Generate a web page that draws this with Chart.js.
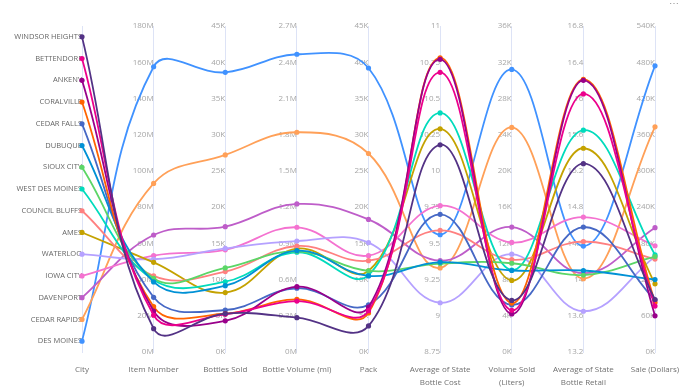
<!DOCTYPE html>
<html>
<head>
<meta charset="utf-8">
<script src="https://cdn.jsdelivr.net/npm/chart.js@4/dist/chart.umd.min.js"></script>
<style>
  html, body { margin: 0; padding: 0; background: #fff; }
  #wrap { position: relative; width: 683px; height: 392px; }
  #more { position: absolute; right: 4px; top: -4px; color: #999; font: 10px "Open Sans", sans-serif; }
</style>
</head>
<body>
<div id="wrap">
  <canvas id="chart" width="683" height="392"></canvas>
  <span id="more">⋯</span>
</div>
<script>
// cities, top of the City axis first
const cities = ["WINDSOR HEIGHTS", "BETTENDORF", "ANKENY", "CORALVILLE", "CEDAR FALLS", "DUBUQUE",
  "SIOUX CITY", "WEST DES MOINES", "COUNCIL BLUFFS", "AMES", "WATERLOO", "IOWA CITY",
  "DAVENPORT", "CEDAR RAPIDS", "DES MOINES"];
const cityColors = ["#533285", "#EC008C", "#99008A", "#FF6300", "#4668C5", "#0091D5",
  "#5BD667", "#00DBBC", "#FF8080", "#C4A200", "#B5A1FF", "#F472D0",
  "#BE5DC9", "#FFA058", "#4092FF"];

const dimensions = ["City", "Item Number", "Bottles Sold", "Bottle Volume (ml)", "Pack",
  ["Average of State", "Bottle Cost"], ["Volume Sold", "(Liters)"],
  ["Average of State", "Bottle Retail"], "Sale (Dollars)"];

// values per city (same order as cities)
const itemNumber = [12.9, 20.3, 22.6, 25, 30.2, 38.7, 40.7, 39.8, 42, 49.5, 51.2, 53.2, 64.6, 93.1, 157.5];      // M
const bottlesSold = [5.3, 5.2, 4.3, 5.3, 5.8, 9.15, 11.6, 9.7, 11.1, 8.2, 14.3, 14.1, 17.3, 27.2, 38.6];        // K
const bottleVolume = [0.284, 0.422, 0.541, 0.436, 0.528, 0.839, 0.834, 0.826, 0.878, 0.856, 0.919, 1.033, 1.226, 1.82, 2.466]; // M
const pack = [3.6, 5.7, 6.2, 5.4, 6.5, 10.5, 11.2, 10.6, 12.6, 11.2, 15.1, 13.3, 18.3, 27.4, 39.2];             // K
const avgCost = [10.18, 10.68, 10.77, 10.78, 9.70, 9.37, 9.36, 10.40, 9.59, 10.29, 9.09, 9.76, 9.38, 9.33, 9.56];
const volumeSold = [5.7, 4.6, 4.2, 5.4, 5.2, 9.0, 9.8, 9.05, 10.2, 7.9, 10.8, 12.1, 13.8, 24.8, 31.2];          // K
const avgRetail = [15.28, 16.05, 16.20, 16.21, 14.58, 14.10, 14.05, 15.65, 14.42, 15.45, 13.65, 14.69, 14.07, 14.01, 14.37];
const sale = [87, 76, 60, 82, 86, 120, 158, 161, 154, 113, 158, 176, 206, 373, 474];                           // K

// axis ranges for the eight numeric dimensions
const axisMin = [0, 0, 0, 0, 8.75, 0, 13.2, 0];
const axisMax = [180, 45, 2.7, 45, 11, 36, 16.8, 540];
const axisStep = [20, 5, 0.3, 5, 0.25, 4, 0.4, 60];
const axisSuffix = ["M", "K", "M", "K", "", "K", "", "K"];

const series = [itemNumber, bottlesSold, bottleVolume, pack, avgCost, volumeSold, avgRetail, sale];

const FONT = "'Open Sans', sans-serif";
const AXIS_LINE = "#dde3f6";

// every dimension is put on a shared 0..1 scale, the visible axes show real values
function norm(v, j) {
  return (v - axisMin[j]) / (axisMax[j] - axisMin[j]);
}

const datasets = cities.map((city, c) => {
  const data = [1 - (c + 0.5) / cities.length];
  series.forEach((arr, j) => data.push(norm(arr[c], j)));
  return {
    label: city,
    data: data,
    borderColor: cityColors[c],
    backgroundColor: cityColors[c],
    borderWidth: 1.8,
    pointRadius: 2.6,
    pointBorderWidth: 0,
    tension: 0.4,
    yAxisID: "y"
  };
});

const scales = {
  x: {
    type: "category",
    offset: false,
    grid: { display: false, drawTicks: false },
    border: { display: false },
    ticks: { color: "#707070", font: { family: FONT, size: 8, lineHeight: 1.6 }, padding: 11.6, maxRotation: 0, autoSkip: false },
    afterFit: s => { s.height = 40; s.paddingLeft = 0; s.paddingRight = 0; }
  },
  y: { type: "linear", display: false, min: 0, max: 1 },
  city: {
    axis: "y",
    type: "category",
    labels: cities,
    offset: true,
    position: { x: 0 },
    grid: { display: false, drawTicks: false },
    border: { color: AXIS_LINE, width: 1 },
    ticks: { color: "#666", font: { family: FONT, size: 7.5 }, padding: 3, autoSkip: false }
  }
};

axisMin.forEach((mn, j) => {
  scales["d" + j] = {
    axis: "y",
    type: "linear",
    position: { x: j + 1 },
    min: mn,
    max: axisMax[j],
    grid: { display: false, drawTicks: false },
    border: { color: AXIS_LINE, width: 1 },
    ticks: {
      stepSize: axisStep[j],
      color: "#a6a6a6",
      font: { family: FONT, size: 8 },
      padding: 3,
      callback: v => String(+v.toFixed(2)) + axisSuffix[j]
    }
  };
});

new Chart(document.getElementById("chart"), {
  type: "line",
  data: { labels: dimensions, datasets: datasets },
  options: {
    responsive: false,
    animation: false,
    layout: { padding: { left: 82, right: 28, top: 26, bottom: 0 } },
    scales: scales,
    plugins: { legend: { display: false }, tooltip: { enabled: false } }
  }
});
</script>
</body>
</html>
